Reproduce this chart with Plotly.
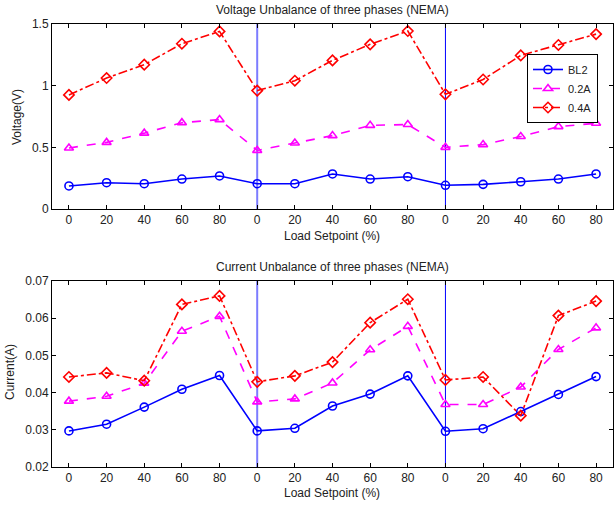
import plotly.graph_objects as go

x_labels = ["0", "20", "40", "60", "80"] * 3
x_idx = list(range(15))

v_bl2 = [0.187, 0.213, 0.205, 0.243, 0.268, 0.205, 0.205, 0.284, 0.243, 0.262, 0.192, 0.200, 0.221, 0.243, 0.284]
v_02a = [0.495, 0.540, 0.615, 0.700, 0.725, 0.475, 0.535, 0.595, 0.678, 0.685, 0.500, 0.522, 0.588, 0.668, 0.695]
v_04a = [0.925, 1.062, 1.170, 1.340, 1.440, 0.960, 1.040, 1.205, 1.335, 1.443, 0.930, 1.050, 1.245, 1.330, 1.418]

c_bl2 = [0.0297, 0.0315, 0.0361, 0.0409, 0.0446, 0.0297, 0.0304, 0.0364, 0.0396, 0.0445, 0.0296, 0.0303, 0.0349, 0.0395, 0.0443]
c_02a = [0.0377, 0.0390, 0.0425, 0.0565, 0.0605, 0.0375, 0.0383, 0.0426, 0.0515, 0.0578, 0.0368, 0.0368, 0.0415, 0.0516, 0.0574]
c_04a = [0.0442, 0.0453, 0.0432, 0.0637, 0.0660, 0.0429, 0.0445, 0.0482, 0.0588, 0.0651, 0.0434, 0.0442, 0.0338, 0.0607, 0.0646]

series = [
    ("BL2", v_bl2, c_bl2, "#0000ff", "solid", "circle-open"),
    ("0.2A", v_02a, c_02a, "#ff00ff", "dash", "triangle-up-open"),
    ("0.4A", v_04a, c_04a, "#ff0000", "dashdot", "diamond-open"),
]

W, H = 614, 506
# desired window coordinates of the plot box
WL, WR, WT, WB = 52, 613, 24, 467
ML, MT = WL, WT
MR = W - WR
MB = H - WB
PH = H - MT - MB
PW = W - ML - MR

def py(y):
    return (WB - y) / PH

def px(x):
    return (x - WL) / PW

FONT = "Liberation Sans, Arial, sans-serif"
fig = go.Figure()
for name, v, c, col, dash, sym in series:
    fig.add_trace(go.Scatter(x=x_idx, y=v, name=name, mode="lines+markers",
                             line=dict(color=col, width=1.6, dash=dash),
                             marker=dict(symbol=sym, size=8, color=col, line=dict(color=col, width=1.6)),
                             xaxis="x", yaxis="y"))
    fig.add_trace(go.Scatter(x=x_idx, y=c, name=name, mode="lines+markers", showlegend=False,
                             line=dict(color=col, width=1.6, dash=dash),
                             marker=dict(symbol=sym, size=8, color=col, line=dict(color=col, width=1.6)),
                             xaxis="x2", yaxis="y2"))

font = dict(family=FONT, size=12, color="#222222")
axcommon = dict(showline=True, linecolor="black", linewidth=1, mirror="ticks", ticks="inside",
                ticklen=4, tickcolor="black", showgrid=False, zeroline=False, tickfont=font)

fig.update_layout(
    width=W, height=H, margin=dict(l=ML, r=MR, t=MT, b=MB),
    plot_bgcolor="white", paper_bgcolor="white", font=font,
    xaxis=dict(axcommon, domain=[0, 1], range=[-0.45, 14.45], tickvals=x_idx, ticktext=x_labels, anchor="y"),
    yaxis=dict(axcommon, domain=[py(209), 1], range=[0, 1.5], tickvals=[0, 0.5, 1, 1.5],
               ticktext=["0", "0.5", "1", "1.5"], anchor="x"),
    xaxis2=dict(axcommon, domain=[0, 1], range=[-0.45, 14.45], tickvals=x_idx, ticktext=x_labels, anchor="y2"),
    yaxis2=dict(axcommon, domain=[0, py(281)], range=[0.02, 0.07],
                tickvals=[0.02, 0.03, 0.04, 0.05, 0.06, 0.07],
                ticktext=["0.02", "0.03", "0.04", "0.05", "0.06", "0.07"], anchor="x2"),
    legend=dict(x=px(527), y=py(54), xanchor="left", yanchor="top", bgcolor="white",
                bordercolor="black", borderwidth=1, font=dict(family=FONT, size=11, color="#222222"),
                tracegroupgap=0, itemwidth=30),
    showlegend=True,
)

for xr, yr in (("x", "y domain"), ("x2", "y2 domain")):
    fig.add_shape(type="line", xref=xr, yref=yr, x0=5, x1=5, y0=0, y1=1,
                  line=dict(color="rgba(80,80,255,0.75)", width=2), layer="below")
    fig.add_shape(type="line", xref=xr, yref=yr, x0=10, x1=10, y0=0, y1=1,
                  line=dict(color="#0000ff", width=1), layer="below")

ann = [
    ("Voltage Unbalance of three phases (NEMA)", 332, 10, 0),
    ("Load Setpoint (%)", 332, 236, 0),
    ("Current Unbalance of three phases (NEMA)", 332, 267, 0),
    ("Load Setpoint (%)", 332, 493, 0),
    ("Voltage(V)", 17, 117, -90),
    ("Current(A)", 10, 372, -90),
]
for text, x, y, ang in ann:
    fig.add_annotation(text=text, xref="paper", yref="paper", x=px(x), y=py(y),
                       xanchor="center", yanchor="middle", showarrow=False, textangle=ang,
                       font=dict(family=FONT, size=12, color="#222222"))

fig.write_html("out.html", config={"displayModeBar": False},
               post_script="document.body.style.margin='0';document.body.style.overflow='hidden';")
